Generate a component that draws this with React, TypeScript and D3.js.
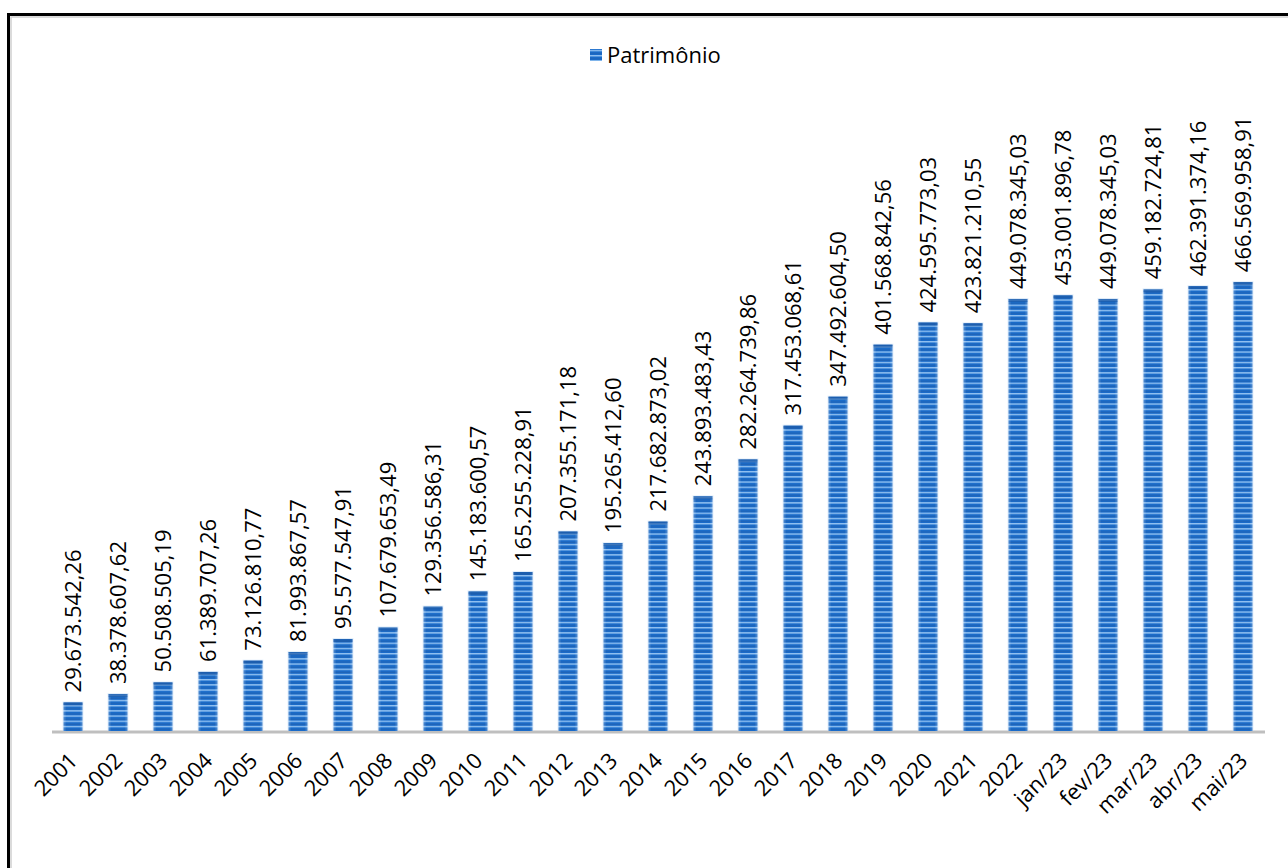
import React from "react";
import * as d3 from "d3";

const categories = ["2001","2002","2003","2004","2005","2006","2007","2008","2009","2010","2011","2012","2013","2014","2015","2016","2017","2018","2019","2020","2021","2022","jan/23","fev/23","mar/23","abr/23","mai/23"];
const values = [29673542.26,38378607.62,50508505.19,61389707.26,73126810.77,81993867.57,95577547.91,107679653.49,129356586.31,145183600.57,165255228.91,207355171.18,195265412.60,217682873.02,243893483.43,282264739.86,317453068.61,347492604.50,401568842.56,424595773.03,423821210.55,449078345.03,453001896.78,449078345.03,459182724.81,462391374.16,466569958.91];
const valueLabels = ["29.673.542,26","38.378.607,62","50.508.505,19","61.389.707,26","73.126.810,77","81.993.867,57","95.577.547,91","107.679.653,49","129.356.586,31","145.183.600,57","165.255.228,91","207.355.171,18","195.265.412,60","217.682.873,02","243.893.483,43","282.264.739,86","317.453.068,61","347.492.604,50","401.568.842,56","424.595.773,03","423.821.210,55","449.078.345,03","453.001.896,78","449.078.345,03","459.182.724,81","462.391.374,16","466.569.958,91"];
const seriesName = "Patrimônio";

const W = 1288, H = 868;
const FONT = "'Open Sans', 'Noto Sans', sans-serif";

export default function App() {
  const x = d3.scaleBand<string>().domain(categories).range([50.5, 1265.5]).paddingInner(0.58).paddingOuter(0.29);
  const y = d3.scaleLinear().domain([0, 500000000]).range([731, 250]);
  const bw = x.bandwidth();
  return (
    <svg width={W} height={H} style={{ position: "absolute", left: 0, top: 0, background: "#fff" }}>
      <defs>
        <pattern id="stripes" patternUnits="userSpaceOnUse" width={10} height={5.2} x={0} y={731}>
          <rect width={10} height={5.2} fill="#1a6cca" />
          <rect y={0} width={10} height={1.4} fill="#93c2f1" />
          <rect y={3.2} width={10} height={1} fill="#1f62b4" />
        </pattern>
        <linearGradient id="edge" x1="0" x2="1" y1="0" y2="0">
          <stop offset="0" stopColor="#ffffff" stopOpacity={0.25} />
          <stop offset="0.15" stopColor="#ffffff" stopOpacity={0} />
          <stop offset="0.85" stopColor="#ffffff" stopOpacity={0} />
          <stop offset="1" stopColor="#ffffff" stopOpacity={0.25} />
        </linearGradient>
      </defs>
      <rect x={0} y={0} width={W} height={H} fill="#fff" />
      <rect x={11} y={17} width={W + 20} height={H + 20} fill="none" stroke="#d0d0d0" strokeWidth={1.5} />
      <rect x={8.5} y={14.5} width={W + 20} height={H + 20} fill="none" stroke="#000" strokeWidth={3} />

      {/* legend */}
      <rect x={590} y={49} width={12} height={12} fill="url(#stripes)" />
      <text x={607} y={63} fontFamily={FONT} fontSize={22} fill="#000">{seriesName}</text>

      {/* axis line */}
      <line x1={52} x2={1265} y1={732} y2={732} stroke="#bfbfbf" strokeWidth={3} />

      {categories.map((c, i) => {
        const bx = x(c)!;
        const top = y(values[i]);
        const cx = bx + bw / 2;
        return (
          <g key={c}>
            <rect x={bx - 1} y={top - 1} width={bw + 2} height={731 - top + 1} fill="#cfe2f7" opacity={0.6} />
            <rect x={bx} y={top} width={bw} height={731 - top} fill="url(#stripes)" />
            <rect x={bx} y={top} width={bw} height={731 - top} fill="url(#edge)" />
            <rect x={bx} y={top} width={bw} height={3} fill="#1c5aa6" opacity={0.7} />
            <text transform={`translate(${cx},${top - 10}) rotate(-90)`} dy="0.36em" fontFamily={FONT} fontSize={22} fill="#000">{valueLabels[i]}</text>
            <text transform={`translate(${cx + 6},${762}) rotate(-45)`} textAnchor="end" fontFamily={FONT} fontSize={22} fill="#000">{c}</text>
          </g>
        );
      })}
    </svg>
  );
}
